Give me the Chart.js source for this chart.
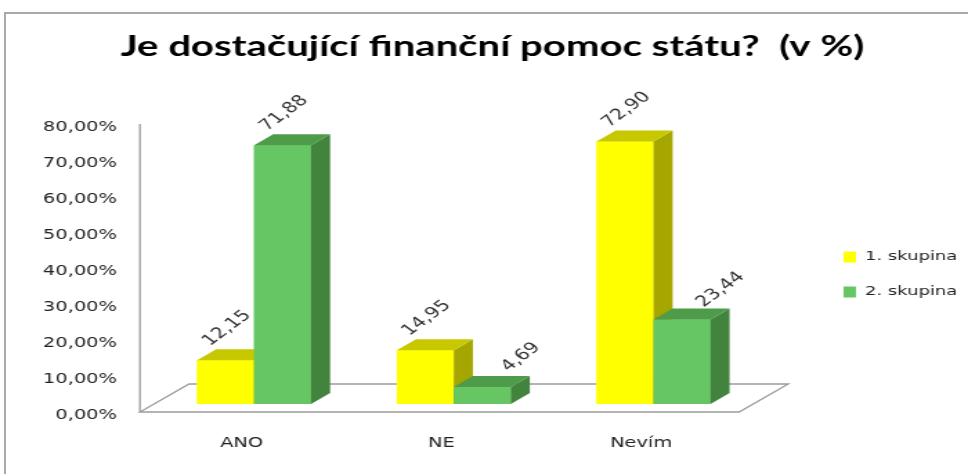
<!DOCTYPE html>
<html>
<head>
<meta charset="utf-8">
<script src="https://cdn.jsdelivr.net/npm/chart.js@4.4.0/dist/chart.umd.min.js"></script>
<style>
  body { margin: 0; background: #fff; }
  #wrap { position: relative; width: 968px; height: 474px; overflow: hidden; }
  #frame { position: absolute; left: 4px; top: 12px; width: 1000px; height: 500px; border: 2px solid #a9a9a9; box-sizing: border-box; }
  canvas { position: absolute; left: 0; top: 0; }
</style>
</head>
<body>
<div id="wrap">
  <div id="frame"></div>
  <!-- drawn narrow and stretched to 968px, like the original picture -->
  <canvas id="chart" width="700" height="474" style="width:968px;height:474px"></canvas>
</div>
<script>
// ********** DATA ***********
const categories = ['ANO', 'NE', 'Nevím'];
const group1 = [12.15, 14.95, 72.90];
const group2 = [71.88, 4.69, 23.44];
const seriesNames = ['1. skupina', '2. skupina'];
const yTickLabels = ['0,00%', '10,00%', '20,00%', '30,00%', '40,00%', '50,00%', '60,00%', '70,00%', '80,00%'];

// ********** 3D LOOK ***********
const depth = { dx: 13.8, dy: -11 };

function fmt(v) {
  return v.toFixed(2).replace('.', ',');
}

const bars3d = {
  id: 'bars3d',
  beforeDatasetsDraw(chart, args, opts) {
    const { ctx, chartArea: a, scales: { y } } = chart;
    const f = opts.floor;
    ctx.save();
    ctx.strokeStyle = opts.lineColor;
    ctx.lineWidth = 1.3;
    ctx.fillStyle = '#fff';
    ctx.beginPath();
    ctx.moveTo(a.left + f.fx, a.bottom + f.fy);
    ctx.lineTo(a.right + f.fx, a.bottom + f.fy);
    ctx.lineTo(a.right + f.fx + f.bx, a.bottom + f.fy + f.by);
    ctx.lineTo(a.left + f.fx + f.bx, a.bottom + f.fy + f.by);
    ctx.closePath();
    ctx.fill();
    ctx.stroke();
    // side wall edge
    ctx.beginPath();
    ctx.moveTo(a.left + f.fx, a.bottom + f.fy);
    ctx.lineTo(a.left + f.fx, y.getPixelForValue(y.max) + f.fy);
    ctx.stroke();
    ctx.restore();
  },
  afterDatasetsDraw(chart, args, opts) {
    const { ctx, chartArea } = chart;
    const { dx, dy } = depth;
    // chart.js paints dataset 0 last, so repaint left to right with the depth faces
    chart.data.datasets.forEach((ds, di) => {
      const c = opts.faces[di];
      chart.getDatasetMeta(di).data.forEach(bar => {
        bar.draw(ctx, chartArea);
        const { x, y, base, width } = bar.getProps(['x', 'y', 'base', 'width'], true);
        const x0 = x - width / 2, x1 = x + width / 2;
        ctx.save();
        ctx.fillStyle = c.side;
        ctx.beginPath();
        ctx.moveTo(x1, y);
        ctx.lineTo(x1 + dx, y + dy);
        ctx.lineTo(x1 + dx, base + dy);
        ctx.lineTo(x1, base);
        ctx.closePath();
        ctx.fill();
        ctx.fillStyle = c.top;
        ctx.beginPath();
        ctx.moveTo(x0, y);
        ctx.lineTo(x1, y);
        ctx.lineTo(x1 + dx, y + dy);
        ctx.lineTo(x0 + dx, y + dy);
        ctx.closePath();
        ctx.fill();
        ctx.restore();
      });
    });

    // value labels
    ctx.save();
    ctx.font = '15px "DejaVu Sans"';
    ctx.fillStyle = '#333';
    ctx.textAlign = 'center';
    ctx.textBaseline = 'middle';
    chart.data.datasets.forEach((ds, di) => {
      chart.getDatasetMeta(di).data.forEach((bar, i) => {
        const { x, y } = bar.getProps(['x', 'y'], true);
        ctx.save();
        ctx.translate(x + opts.labelDx[di][i], y + opts.labelDy[di][i]);
        ctx.rotate(-Math.PI / 4);
        ctx.fillText(fmt(ds.data[i]), 0, 0);
        ctx.restore();
      });
    });
    ctx.restore();
  }
};

const ctx = document.getElementById('chart').getContext('2d');
const myChart = new Chart(ctx, {
  type: 'bar',
  data: {
    labels: categories,
    datasets: [
      { label: seriesNames[0], data: group1, backgroundColor: '#ffff00', borderWidth: 0 },
      { label: seriesNames[1], data: group2, backgroundColor: '#66c664', borderWidth: 0 }
    ]
  },
  options: {
    responsive: false,
    animation: false,
    layout: { padding: { left: 12, right: 0, top: 0, bottom: 0 } },
    datasets: { bar: { categoryPercentage: 0.5705, barPercentage: 1 } },
    scales: {
      x: {
        grid: { display: false, drawTicks: false },
        border: { display: false },
        ticks: { padding: 30.6, labelOffset: -9, color: '#222', font: { family: 'DejaVu Sans', size: 14 } },
        afterFit: s => { s.height = 70; }
      },
      y: {
        min: 0,
        max: 80,
        grid: { display: false, drawTicks: false },
        border: { display: false },
        ticks: {
          stepSize: 10,
          padding: 27,
          labelOffset: 11,
          color: '#222',
          font: { family: 'DejaVu Sans', size: 14 },
          callback: (v, i) => yTickLabels[i]
        },
        afterFit: s => { s.width = 99.5; }
      },
      // empty spacer between the plot and the legend
      y2: {
        position: 'right',
        grid: { display: false, drawTicks: false },
        border: { display: false },
        ticks: { display: false },
        afterFit: s => { s.width = 43.2; }
      }
    },
    plugins: {
      title: {
        display: true,
        text: 'Je dostačující finanční pomoc státu?  (v %)',
        color: '#000',
        font: { family: 'Lato', weight: 'bold', size: 29 },
        padding: { top: 29.4, bottom: 51.8 }
      },
      legend: {
        position: 'right',
        align: 'start',
        maxWidth: 112,
        title: { display: true, text: '', font: { size: 13 }, padding: { top: 212.9, bottom: 0 } },
        labels: {
          boxWidth: 9,
          boxHeight: 11,
          padding: 22,
          color: '#222',
          font: { family: 'DejaVu Sans', size: 13 }
        }
      },
      tooltip: { enabled: false },
      bars3d: {
        lineColor: '#9c9c9c',
        floor: { fx: -10.3, fy: 8, bx: 35.5, by: -28 },
        faces: [
          { top: '#c8c800', side: '#a6a600' },
          { top: '#4e9b4a', side: '#42833e' }
        ],
        labelDx: [[1, 1, 1], [1, 28, 28]],
        labelDy: [[-32, -32, -32], [-32, -30, -30]]
      }
    }
  },
  plugins: [bars3d]
});
</script>
</body>
</html>
